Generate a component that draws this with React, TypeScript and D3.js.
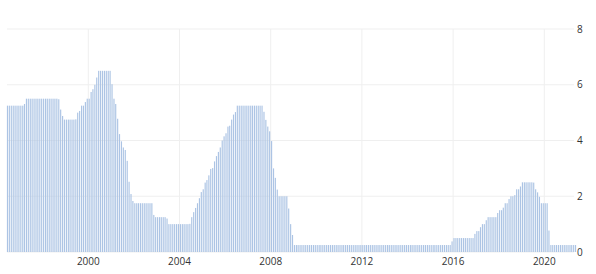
import React from "react";
import * as d3 from "d3";

// Monthly interest rate (%), starting June 1996, one row per calendar year
const startYear = 1996;
const startMonth = 5; // June (0-based)
const rateByYear: number[][] = [
  [5.25, 5.25, 5.25, 5.25, 5.25, 5.25, 5.25],
  [5.25, 5.25, 5.31, 5.5, 5.5, 5.5, 5.5, 5.5, 5.5, 5.5, 5.5, 5.5],
  [5.5, 5.5, 5.5, 5.5, 5.5, 5.5, 5.5, 5.5, 5.48, 5.11, 4.88, 4.75],
  [4.75, 4.75, 4.75, 4.75, 4.75, 4.76, 5.0, 5.06, 5.25, 5.25, 5.38, 5.5],
  [5.5, 5.74, 5.84, 6.0, 6.26, 6.5, 6.5, 6.5, 6.5, 6.5, 6.5, 6.5],
  [6.02, 5.5, 5.31, 4.78, 4.23, 3.97, 3.75, 3.66, 3.27, 2.52, 2.08, 1.83],
  [1.75, 1.75, 1.75, 1.75, 1.75, 1.75, 1.75, 1.75, 1.75, 1.75, 1.33, 1.25],
  [1.25, 1.25, 1.25, 1.25, 1.25, 1.2, 1.0, 1.0, 1.0, 1.0, 1.0, 1.0],
  [1.0, 1.0, 1.0, 1.0, 1.0, 1.01, 1.25, 1.43, 1.58, 1.75, 1.93, 2.15],
  [2.25, 2.49, 2.58, 2.75, 2.98, 3.01, 3.25, 3.44, 3.59, 3.75, 4.0, 4.15],
  [4.26, 4.5, 4.53, 4.75, 4.93, 5.02, 5.25, 5.25, 5.25, 5.25, 5.25, 5.25],
  [5.25, 5.25, 5.25, 5.25, 5.25, 5.25, 5.25, 5.25, 5.03, 4.74, 4.5, 4.33],
  [3.98, 3.0, 2.66, 2.24, 2.0, 2.0, 2.0, 2.0, 2.0, 1.56, 1.0, 0.61],
  [0.25, 0.25, 0.25, 0.25, 0.25, 0.25, 0.25, 0.25, 0.25, 0.25, 0.25, 0.25],
  [0.25, 0.25, 0.25, 0.25, 0.25, 0.25, 0.25, 0.25, 0.25, 0.25, 0.25, 0.25],
  [0.25, 0.25, 0.25, 0.25, 0.25, 0.25, 0.25, 0.25, 0.25, 0.25, 0.25, 0.25],
  [0.25, 0.25, 0.25, 0.25, 0.25, 0.25, 0.25, 0.25, 0.25, 0.25, 0.25, 0.25],
  [0.25, 0.25, 0.25, 0.25, 0.25, 0.25, 0.25, 0.25, 0.25, 0.25, 0.25, 0.25],
  [0.25, 0.25, 0.25, 0.25, 0.25, 0.25, 0.25, 0.25, 0.25, 0.25, 0.25, 0.25],
  [0.25, 0.25, 0.25, 0.25, 0.25, 0.25, 0.25, 0.25, 0.25, 0.25, 0.25, 0.38],
  [0.5, 0.5, 0.5, 0.5, 0.5, 0.5, 0.5, 0.5, 0.5, 0.5, 0.5, 0.65],
  [0.75, 0.75, 0.89, 1.0, 1.0, 1.14, 1.25, 1.25, 1.25, 1.25, 1.25, 1.4],
  [1.5, 1.5, 1.59, 1.75, 1.75, 1.9, 2.0, 2.0, 2.04, 2.25, 2.25, 2.35],
  [2.5, 2.5, 2.5, 2.5, 2.5, 2.5, 2.49, 2.25, 2.14, 1.98, 1.75, 1.75],
  [1.75, 1.75, 0.77, 0.25, 0.25, 0.25, 0.25, 0.25, 0.25, 0.25, 0.25, 0.25],
  [0.25, 0.25, 0.25, 0.25, 0.25],
];

const yTicks = [0, 2, 4, 6, 8];
const xTickYears = [2000, 2004, 2008, 2012, 2016, 2020];

const W = 596;
const H = 274;

export default function App() {
  const data: { date: Date; value: number }[] = [];
  rateByYear.forEach((row, yi) => {
    row.forEach((v, k) => {
      const month = yi === 0 ? startMonth + k : k;
      data.push({ date: new Date(startYear + yi, month, 15), value: v });
    });
  });

  const x = d3
    .scaleTime()
    .domain([new Date(1996, 5, 1), new Date(2021, 5, 1)])
    .range([6.6, 576.6]);
  const y = d3.scaleLinear().domain([0, 8]).range([252, 29]);
  const barW = 1.15;
  const font = "'Open Sans', 'Segoe UI', sans-serif";

  return (
    <svg
      width={W}
      height={H}
      style={{ position: "absolute", left: 0, top: 0, background: "#fff" }}
    >
      <g>
        {yTicks.map((t) => (
          <line
            key={"h" + t}
            x1={7}
            x2={574}
            y1={y(t)}
            y2={y(t)}
            stroke="#efefef"
            strokeWidth={1}
          />
        ))}
        {xTickYears.map((yr) => (
          <line
            key={"v" + yr}
            x1={x(new Date(yr, 0, 1))}
            x2={x(new Date(yr, 0, 1))}
            y1={y(8)}
            y2={y(0)}
            stroke="#efefef"
            strokeWidth={1}
          />
        ))}
      </g>
      <g>
        {data.map((d, i) => (
          <rect
            key={i}
            x={x(d.date) - barW / 2}
            y={y(d.value)}
            width={barW}
            height={y(0) - y(d.value)}
            fill="#acc4e4"
          />
        ))}
      </g>
      <g fontFamily={font} fontSize={10} fill="#333">
        {xTickYears.map((yr) => (
          <text
            key={"xl" + yr}
            x={x(new Date(yr, 0, 1))}
            y={265}
            textAnchor="middle"
          >
            {yr}
          </text>
        ))}
        {yTicks.map((t) => (
          <text key={"yl" + t} x={577} y={y(t)} dy="0.35em" textAnchor="start">
            {t}
          </text>
        ))}
      </g>
    </svg>
  );
}
